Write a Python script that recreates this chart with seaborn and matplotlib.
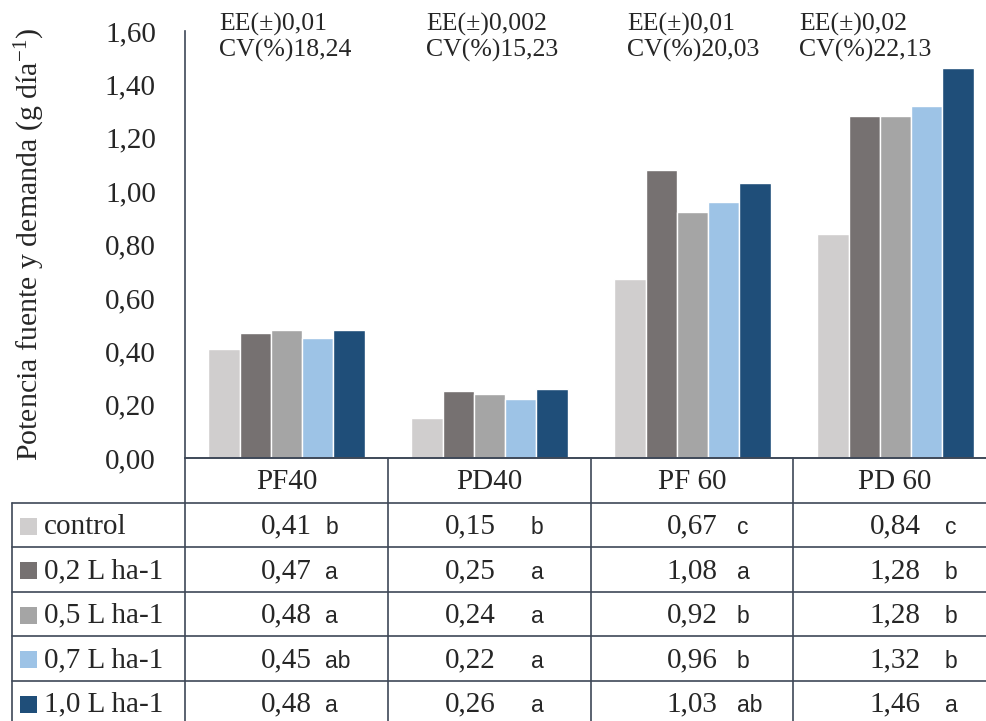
import numpy as np
import pandas as pd
import matplotlib
matplotlib.use('Agg')
import matplotlib.pyplot as plt
import seaborn as sns

# data
stages = ['PF40', 'PD40', 'PF 60', 'PD 60']
doses = ['control', '0,2 L ha-1', '0,5 L ha-1', '0,7 L ha-1', '1,0 L ha-1']
control = [0.41, 0.15, 0.67, 0.84]
dose_02 = [0.47, 0.25, 1.08, 1.28]
dose_05 = [0.48, 0.24, 0.92, 1.28]
dose_07 = [0.45, 0.22, 0.96, 1.32]
dose_10 = [0.48, 0.26, 1.03, 1.46]
letters_control = ['b', 'b', 'c', 'c']
letters_02 = ['a', 'a', 'a', 'b']
letters_05 = ['a', 'a', 'b', 'b']
letters_07 = ['ab', 'a', 'b', 'b']
letters_10 = ['a', 'a', 'ab', 'a']
ee = ['0,01', '0,002', '0,01', '0,02']
cv = ['18,24', '15,23', '20,03', '22,13']
colors = ['#D0CECE', '#767171', '#A5A5A5', '#9DC3E6', '#1F4E79']

series = [control, dose_02, dose_05, dose_07, dose_10]
letters = [letters_control, letters_02, letters_05, letters_07, letters_10]

rows = []
for d, vals in zip(doses, series):
    for s, v in zip(stages, vals):
        rows.append({'stage': s, 'dose': d, 'value': v})
df = pd.DataFrame(rows)

sns.set_style('white')
plt.rcParams['font.family'] = ['Liberation Serif', 'DejaVu Serif']
plt.rcParams['mathtext.fontset'] = 'custom'
plt.rcParams['mathtext.rm'] = 'Liberation Serif'
plt.rcParams['mathtext.it'] = 'Liberation Serif:italic'

W, H = 987, 721
line_c = '#3E4858'
fig = plt.figure(figsize=(W / 100, H / 100), dpi=100)

# bar area (pixel layout -> figure fractions)
x0, x1, ytop, ybot = 185, 997, 31, 458
ax = fig.add_axes([x0 / W, 1 - ybot / H, (x1 - x0) / W, (ybot - ytop) / H])
sns.barplot(data=df, x='stage', y='value', hue='dose', order=stages, hue_order=doses,
            palette=colors, saturation=1, width=0.77, ax=ax, legend=False)
ax.set_ylim(0, 1.6)
ax.set_xlim(-0.5, 3.5)
yt = np.arange(0, 1.61, 0.2)
ax.set_yticks(yt)
ax.set_yticklabels([f'{t:.2f}'.replace('.', ',') for t in yt], fontsize=21)
ax.tick_params(axis='y', length=0, pad=21)
ax.tick_params(axis='x', length=0, labelbottom=False)
ax.set_xlabel('')
ax.set_ylabel('')
for side in ['top', 'right']:
    ax.spines[side].set_visible(False)
for side in ['left', 'bottom']:
    ax.spines[side].set_color(line_c)
    ax.spines[side].set_linewidth(1.2)

# overlay in pixel coordinates for the data table and notes
ov = fig.add_axes([0, 0, 1, 1])
ov.set_xlim(0, W)
ov.set_ylim(H, 0)
ov.axis('off')
ov.patch.set_alpha(0)

ov.text(30, 245, 'Potencia fuente y demanda (g día$^{-1}$)', rotation=90,
        ha='center', va='center', fontsize=21.5)

note_x = [219, 426, 627, 799]
for nx, e, c in zip(note_x, ee, cv):
    ov.text(nx, 13, f'EE(±){e}\nCV(%){c}', ha='left', va='top', fontsize=18.5,
            linespacing=1.15)

col_edges = [185, 388, 591, 793, 997]
header_top, header_bot = 458, 502.5
row_h = 44.5
lw = 1.2
# horizontal lines
ov.plot([185, 997], [header_top, header_top], color=line_c, lw=lw)
for i in range(len(doses) + 1):
    y = header_bot + i * row_h
    ov.plot([12, 997], [y, y], color=line_c, lw=lw)
# vertical lines
ov.plot([12, 12], [header_bot, H + 5], color=line_c, lw=lw)
for cx in col_edges:
    ov.plot([cx, cx], [header_top, H + 5], color=line_c, lw=lw)

centers = [(a + b) / 2 for a, b in zip(col_edges[:-1], col_edges[1:])]
for c, s in zip(centers, stages):
    ov.text(c, 482, s, ha='center', va='center', fontsize=21)

value_dx = [0, -19, 0, 0]
letter_dx = [39, 41, 45, 50]
for i, (d, vals, lets, col) in enumerate(zip(doses, series, letters, colors)):
    yc = header_bot + i * row_h + row_h / 2 + 2
    ov.add_patch(plt.Rectangle((20, yc - 9), 17, 17, color=col, lw=0))
    ov.text(44, yc, d, ha='left', va='center', fontsize=21)
    for c, v, l, vdx, ldx in zip(centers, vals, lets, value_dx, letter_dx):
        ov.text(c + vdx, yc, f'{v:.2f}'.replace('.', ','), ha='center', va='center',
                fontsize=21)
        ov.text(c + ldx, yc + 1, l, ha='left', va='center', fontsize=16.5,
                family=['Liberation Sans', 'DejaVu Sans'])

fig.savefig('out.png', dpi=100)
